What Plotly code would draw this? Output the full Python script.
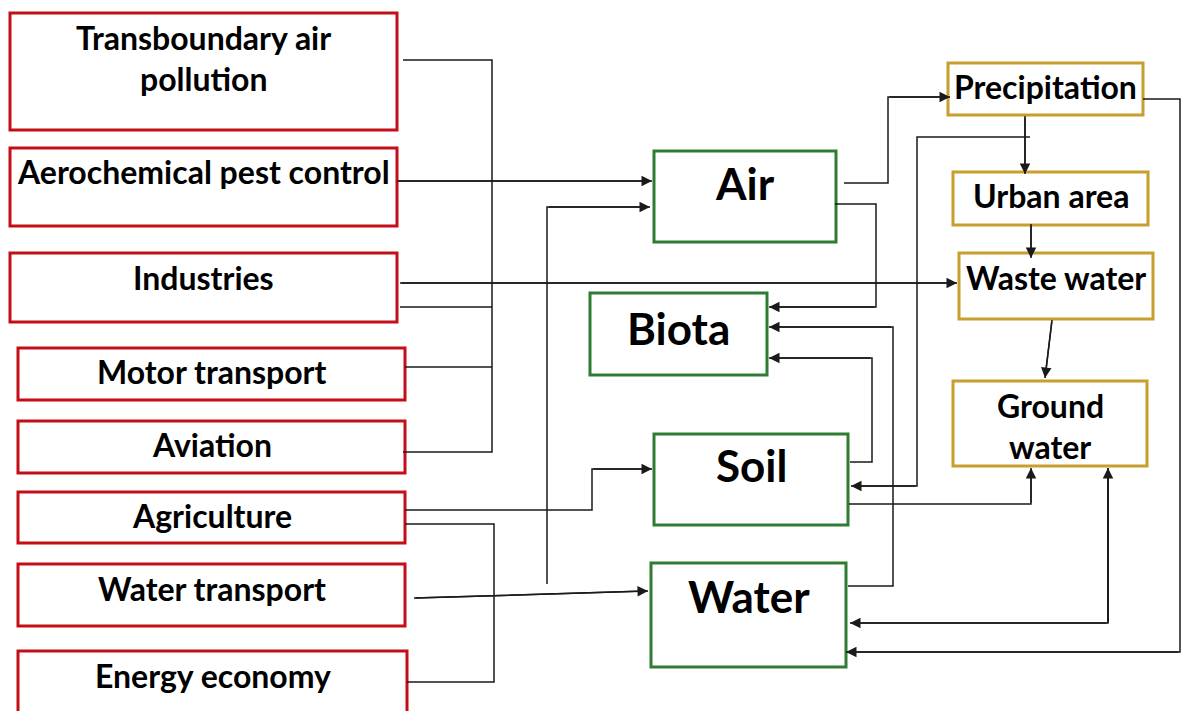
import plotly.graph_objects as go

W, H = 1181, 711

# ---- content ----
source_labels = ["Transboundary air<br>pollution", "Aerochemical pest control", "Industries",
                 "Motor transport", "Aviation", "Agriculture", "Water transport", "Energy economy"]
medium_labels = ["Air", "Biota", "Soil", "Water"]
water_labels = ["Precipitation", "Urban area", "Waste water", "Ground<br>water"]

# ---- layout geometry (pixel canvas) ----
source_boxes = [(10, 13, 397, 130), (10, 148, 397, 226), (10, 253, 397, 322), (18, 348, 405, 400),
                (18, 421, 405, 473), (18, 492, 405, 543), (18, 564, 405, 626), (18, 651, 407, 716)]
source_text_y = [37, 171, 277, 371, 444, 515, 588, 675]
medium_boxes = [(654, 151, 836, 242), (590, 293, 767, 375), (654, 434, 848, 525), (651, 563, 846, 667)]
medium_text_y = [183, 328, 465, 596]
water_boxes = [(948, 63, 1143, 115), (953, 172, 1148, 225), (959, 253, 1153, 319), (953, 381, 1147, 466)]
water_text_y = [86, 195, 277, 405]

RED, GREEN, GOLD, INK = "#C40D16", "#2E7B32", "#C89F2C", "#1a1a1a"
FONT = "Lato"

# connectors: (points, arrow at end?)
connectors = [
    ([(403, 60), (492, 60), (492, 452), (403, 452)], False),
    ([(400, 307), (492, 307)], False),
    ([(405, 367), (492, 367)], False),
    ([(397, 181), (652, 181)], True),
    ([(400, 283), (957, 283)], True),
    ([(547, 584), (547, 207), (650, 207)], True),
    ([(405, 510), (592, 510), (592, 469), (652, 469)], True),
    ([(405, 524), (494, 524), (494, 682), (407, 682)], False),
    ([(414, 598), (648, 591)], True),
    ([(844, 183), (888, 183), (888, 97), (950, 97)], True),
    ([(835, 204), (876, 204), (876, 307), (769, 307)], True),
    ([(850, 462), (872, 462), (872, 358), (769, 358)], True),
    ([(848, 586), (893, 586), (893, 327), (769, 327)], True),
    ([(1030, 137), (917, 137), (917, 486), (851, 486)], True),
    ([(1025, 116), (1025, 174)], True),
    ([(1031, 224), (1031, 258)], True),
    ([(1052, 320), (1045, 378)], True),
    ([(849, 504), (1031, 504), (1031, 468)], True),
    ([(1108, 468), (1108, 623), (850, 623)], True),
    ([(1108, 623), (1108, 468)], True),
    ([(1143, 99), (1180, 99), (1180, 652), (846, 652)], True),
]

fig = go.Figure()
shapes, annotations = [], []

for pts, arrow in connectors:
    xs = [p[0] for p in pts]
    ys = [p[1] for p in pts]
    fig.add_trace(go.Scatter(x=xs, y=ys, mode="lines", line=dict(color=INK, width=1.5),
                             hoverinfo="skip", showlegend=False))
    if arrow:
        (ax, ay), (x, y) = pts[-2], pts[-1]
        annotations.append(dict(x=x, y=y, ax=ax, ay=ay, xref="x", yref="y", axref="x", ayref="y",
                                text="", showarrow=True, arrowhead=2, arrowsize=1.4, arrowwidth=1.5,
                                arrowcolor=INK, standoff=0))


def add_boxes(boxes, labels, text_y, color, size, gap):
    for (x0, y0, x1, y1), lab, ty in zip(boxes, labels, text_y):
        shapes.append(dict(type="rect", x0=x0, y0=y0, x1=x1, y1=y1, xref="x", yref="y",
                           line=dict(color=color, width=3), fillcolor="white", layer="below"))
        for i, line in enumerate(lab.split("<br>")):
            annotations.append(dict(x=(x0 + x1) / 2, y=ty + i * gap, xref="x", yref="y",
                                    text="<b>" + line + "</b>", showarrow=False,
                                    font=dict(family=FONT, size=size, color="black"),
                                    xanchor="center", yanchor="middle"))


add_boxes(source_boxes, source_labels, source_text_y, RED, 32, 41)
add_boxes(medium_boxes, medium_labels, medium_text_y, GREEN, 44, 41)
add_boxes(water_boxes, water_labels, water_text_y, GOLD, 32, 41)

fig.update_layout(
    width=W, height=H, margin=dict(l=0, r=0, t=0, b=0),
    paper_bgcolor="white", plot_bgcolor="white",
    xaxis=dict(range=[0, W], visible=False, fixedrange=True),
    yaxis=dict(range=[H, 0], visible=False, fixedrange=True),
    shapes=shapes, annotations=annotations, showlegend=False,
)
fig.write_html("out.html", config={"displayModeBar": False},
               post_script="document.body.style.margin='0';document.body.style.overflow='hidden';")
